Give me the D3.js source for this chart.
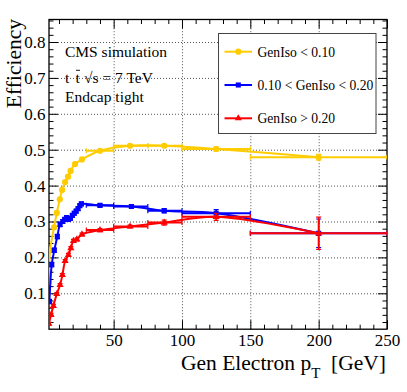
<!DOCTYPE html>
<html>
<head>
<meta charset="utf-8">
<script src="https://cdn.jsdelivr.net/npm/d3@7"></script>
<style>
  body { margin: 0; background: #fff; }
  text { font-family: "Liberation Serif", "Times New Roman", Times, serif; fill: #000; }
</style>
</head>
<body>
<div id="chart"></div>
<script>
// GenIso < 0.10
const isoLowPt  = [2.5, 3.5, 6.4, 8.4, 10.6, 12.3, 14.5, 16.6, 18.5, 21.8, 26.8, 40, 62, 87, 125, 200]
const isoLowEff = [0.13, 0.22, 0.284, 0.324, 0.362, 0.388, 0.41, 0.425, 0.441, 0.46, 0.473, 0.497, 0.511, 0.511, 0.502, 0.479]
const isoLowErr = [0.004, 0.004, 0.004, 0.004, 0.004, 0.004, 0.004, 0.004, 0.004, 0.004, 0.003, 0.003, 0.003, 0.004, 0.006, 0.008]

// 0.10 < GenIso < 0.20
const isoMidPt  = [3, 4.7, 6.6, 8.8, 10.8, 12.8, 14.2, 15.6, 17, 18.4, 19.8, 21.2, 22.6, 24, 25.2, 26.4, 40, 63, 87, 125, 200]
const isoMidEff = [0.077, 0.18, 0.22, 0.258, 0.292, 0.3, 0.306, 0.311, 0.306, 0.309, 0.317, 0.323, 0.329, 0.336, 0.344, 0.349, 0.345, 0.342, 0.33, 0.323, 0.267]
const isoMidErr = [0.006, 0.006, 0.006, 0.006, 0.006, 0.005, 0.005, 0.005, 0.005, 0.005, 0.005, 0.005, 0.005, 0.005, 0.005, 0.005, 0.004, 0.004, 0.006, 0.01, 0.04]

// GenIso > 0.20
const isoHighPt  = [2.6, 4.2, 5.9, 8.4, 10.8, 12.5, 14.5, 16.9, 18.7, 20.6, 23.1, 26.8, 40, 62, 87, 125, 200]
const isoHighEff = [0.015, 0.04, 0.065, 0.098, 0.123, 0.151, 0.19, 0.207, 0.226, 0.246, 0.25, 0.264, 0.276, 0.286, 0.297, 0.313, 0.267]
const isoHighErr = [0.004, 0.004, 0.004, 0.004, 0.004, 0.004, 0.004, 0.004, 0.004, 0.004, 0.004, 0.004, 0.004, 0.004, 0.007, 0.01, 0.045]

// wide bins used by the last five points of each series
const wideBins = [[30, 50], [50, 75], [75, 100], [100, 150], [150, 250]]

const legendLabels = ['GenIso < 0.10', '0.10 < GenIso < 0.20', 'GenIso > 0.20']
const xTicks = [50, 100, 150, 200, 250]
const yTicks = [0.1, 0.2, 0.3, 0.4, 0.5, 0.6, 0.7, 0.8]

const width = 407
const height = 392
const margin = { top: 19.5, right: 20, bottom: 62.8, left: 49 }
const innerWidth = width - margin.left - margin.right
const innerHeight = height - margin.top - margin.bottom
const serif = '"Liberation Serif", "Times New Roman", Times, serif'

const svg = d3.select('#chart').append('svg')
  .attr('width', width)
  .attr('height', height)
  .attr('font-family', serif)

svg.append('defs').append('clipPath').attr('id', 'plotclip')
  .append('rect').attr('width', innerWidth).attr('height', innerHeight)

const g = svg.append('g')
  .attr('transform', `translate(${margin.left}, ${margin.top})`)

const xScale = d3.scaleLinear().domain([2.7, 250]).range([0, innerWidth])
const yScale = d3.scaleLinear().domain([0, 0.8627]).range([innerHeight, 0])

// gridlines (dotted)
const gridStyle = sel => {
  sel.select('.domain').remove()
  sel.selectAll('line').attr('stroke', '#555').attr('stroke-dasharray', '1,2').attr('stroke-width', 1)
}
g.append('g')
  .attr('transform', `translate(0, ${innerHeight})`)
  .call(d3.axisBottom(xScale).tickValues([50, 100, 150, 200]).tickSize(-innerHeight).tickFormat(''))
  .call(gridStyle)
g.append('g')
  .call(d3.axisLeft(yScale).tickValues(yTicks).tickSize(-innerWidth).tickFormat(''))
  .call(gridStyle)

// ticks, inward like ROOT
const minorX = d3.range(10, 250, 10).filter(v => v % 50 !== 0)
const minorY = d3.range(0.02, 0.862, 0.02).filter(v => Math.abs(v * 10 - Math.round(v * 10)) > 0.01)
const tickStyle = sel => {
  sel.attr('font-family', null).attr('font-size', null)
  sel.select('.domain').remove()
  sel.selectAll('line').attr('stroke', '#000').attr('stroke-width', 1)
  sel.selectAll('text').attr('font-size', 17).attr('fill', '#000')
}

g.append('g').attr('transform', `translate(0, ${innerHeight})`)
  .call(d3.axisBottom(xScale).tickValues(xTicks).tickSize(-9).tickPadding(5).tickFormat(d3.format('d')))
  .call(tickStyle)
g.append('g').attr('transform', `translate(0, ${innerHeight})`)
  .call(d3.axisBottom(xScale).tickValues(minorX).tickSize(-4.5).tickFormat(''))
  .call(tickStyle)
g.append('g')
  .call(d3.axisTop(xScale).tickValues(xTicks).tickSize(-9).tickFormat(''))
  .call(tickStyle)
g.append('g')
  .call(d3.axisTop(xScale).tickValues(minorX).tickSize(-4.5).tickFormat(''))
  .call(tickStyle)

g.append('g')
  .call(d3.axisLeft(yScale).tickValues(yTicks).tickSize(-9).tickPadding(3.5).tickFormat(d3.format('.1f')))
  .call(tickStyle)
g.append('g')
  .call(d3.axisLeft(yScale).tickValues(minorY).tickSize(-4.5).tickFormat(''))
  .call(tickStyle)
g.append('g').attr('transform', `translate(${innerWidth}, 0)`)
  .call(d3.axisRight(yScale).tickValues(yTicks).tickSize(-9).tickFormat(''))
  .call(tickStyle)
g.append('g').attr('transform', `translate(${innerWidth}, 0)`)
  .call(d3.axisRight(yScale).tickValues(minorY).tickSize(-4.5).tickFormat(''))
  .call(tickStyle)

// frame
g.append('rect')
  .attr('width', innerWidth)
  .attr('height', innerHeight)
  .attr('fill', 'none')
  .attr('stroke', '#000')
  .attr('stroke-width', 1.3)

// series
const series = [
  { pt: isoLowPt, eff: isoLowEff, err: isoLowErr, color: '#ffcc00', marker: d3.symbolCircle, size: 30 },
  { pt: isoMidPt, eff: isoMidEff, err: isoMidErr, color: '#0000ff', marker: d3.symbolSquare, size: 26 },
  { pt: isoHighPt, eff: isoHighEff, err: isoHighErr, color: '#ff0000', marker: d3.symbolTriangle, size: 22 }
]

const curve = d3.line()
  .x(d => xScale(d.pt))
  .y(d => yScale(d.eff))
  .curve(d3.curveCatmullRom.alpha(0.5))

const plot = g.append('g').attr('clip-path', 'url(#plotclip)')

series.forEach(s => {
  const pts = s.pt.map((p, i) => {
    const k = i - (s.pt.length - wideBins.length)
    return {
      pt: p, eff: s.eff[i], err: s.err[i],
      lo: k >= 0 ? wideBins[k][0] : p, hi: k >= 0 ? wideBins[k][1] : p
    }
  })
  const sg = plot.append('g')

  sg.append('path')
    .datum(pts)
    .attr('fill', 'none')
    .attr('stroke', s.color)
    .attr('stroke-width', 2)
    .attr('d', curve)

  // horizontal bin bars
  sg.selectAll('.hbar').data(pts.filter(d => d.hi > d.lo)).join('line')
    .attr('x1', d => xScale(d.lo)).attr('x2', d => xScale(d.hi))
    .attr('y1', d => yScale(d.eff)).attr('y2', d => yScale(d.eff))
    .attr('stroke', s.color).attr('stroke-width', 2)
  sg.selectAll('.hcap').data(pts.filter(d => d.hi > d.lo).flatMap(d => [{ x: d.lo, eff: d.eff }, { x: d.hi, eff: d.eff }])).join('line')
    .attr('x1', d => xScale(d.x)).attr('x2', d => xScale(d.x))
    .attr('y1', d => yScale(d.eff) - 2.5).attr('y2', d => yScale(d.eff) + 2.5)
    .attr('stroke', s.color).attr('stroke-width', 1.2)

  // vertical error bars
  sg.selectAll('.vbar').data(pts).join('line')
    .attr('x1', d => xScale(d.pt)).attr('x2', d => xScale(d.pt))
    .attr('y1', d => yScale(d.eff - d.err)).attr('y2', d => yScale(d.eff + d.err))
    .attr('stroke', s.color).attr('stroke-width', 1.6)
  sg.selectAll('.vcap').data(pts.flatMap(d => [d.eff - d.err, d.eff + d.err].map(v => ({ pt: d.pt, v })))).join('line')
    .attr('x1', d => xScale(d.pt) - 2.5).attr('x2', d => xScale(d.pt) + 2.5)
    .attr('y1', d => yScale(d.v)).attr('y2', d => yScale(d.v))
    .attr('stroke', s.color).attr('stroke-width', 1.2)

  sg.selectAll('.mk').data(pts).join('path')
    .attr('transform', d => `translate(${xScale(d.pt)}, ${yScale(d.eff)})`)
    .attr('d', d3.symbol().type(s.marker).size(s.size))
    .attr('fill', s.color)
})

// annotation text
const note = g.append('g').attr('font-size', 15.5)
note.append('text').attr('x', 16).attr('y', 37.2).text('CMS simulation')
note.append('text').attr('x', 16).attr('y', 63.8).text('t')
const tbar = note.append('text').attr('x', 26.5).attr('y', 63.8).text('t')
note.append('text').attr('x', 35).attr('y', 63.8).text('\u221As = 7 TeV')
note.append('text').attr('x', 16).attr('y', 82.2).text('Endcap tight')
// bar over the second t
const tb = tbar.node().getBBox()
note.append('line')
  .attr('x1', tb.x + 0.5).attr('x2', tb.x + tb.width - 0.5)
  .attr('y1', tb.y + 1).attr('y2', tb.y + 1)
  .attr('stroke', '#000').attr('stroke-width', 0.9)

// legend
const legend = svg.append('g').attr('transform', 'translate(218.5, 33.5)')
legend.append('rect')
  .attr('width', 157.5).attr('height', 100)
  .attr('fill', '#fff').attr('stroke', '#444').attr('stroke-width', 1)
const legendRows = [18.2, 51.5, 84.8]
series.forEach((s, i) => {
  const row = legend.append('g').attr('transform', `translate(0, ${legendRows[i]})`)
  row.append('line').attr('x1', 6).attr('x2', 33.5)
    .attr('stroke', s.color).attr('stroke-width', 2)
  row.append('path')
    .attr('transform', 'translate(19.8, 0)')
    .attr('d', d3.symbol().type(s.marker).size(s.size))
    .attr('fill', s.color)
  row.append('text').attr('x', 39).attr('y', 5)
    .attr('font-size', 13.6).text(legendLabels[i])
})

// axis titles
svg.append('text')
  .attr('transform', 'translate(20.5, 19) rotate(-90)')
  .attr('text-anchor', 'end')
  .attr('font-size', 21.5)
  .text('Efficiency')

const xt = svg.append('text')
  .attr('x', 386).attr('y', 370)
  .attr('text-anchor', 'end')
  .attr('font-size', 21.5)
xt.append('tspan').text('Gen Electron p')
xt.append('tspan').attr('font-size', 15).attr('dy', 8).text('T')
xt.append('tspan').attr('dy', -8).text('\u00a0 [GeV]')
</script>
</body>
</html>
